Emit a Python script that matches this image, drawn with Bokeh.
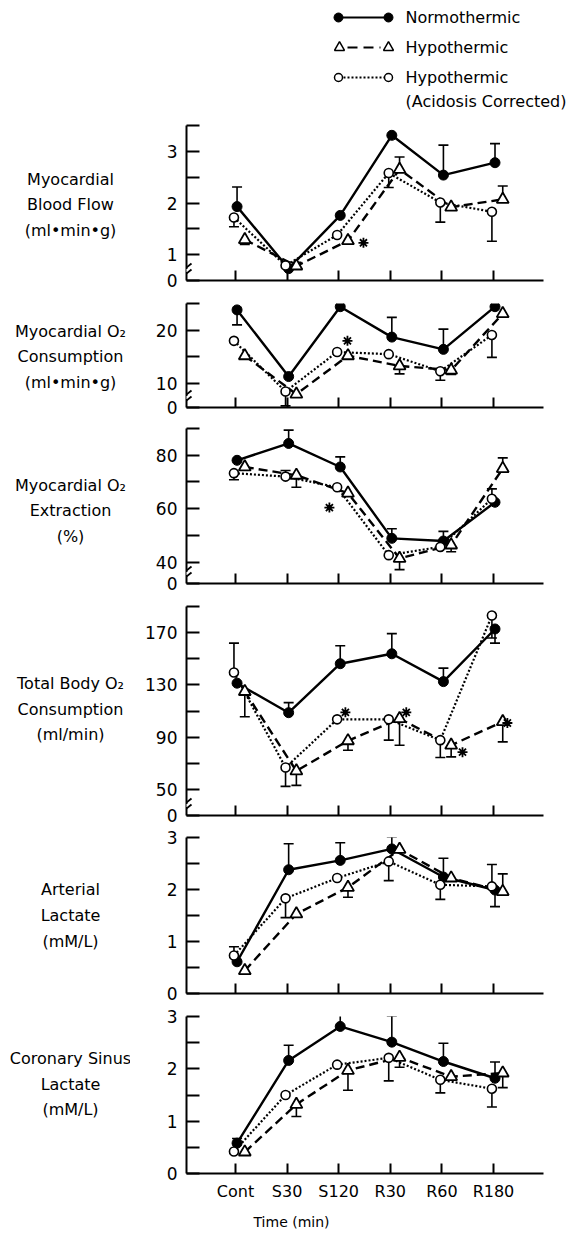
import math
from bokeh.plotting import figure
from bokeh.layouts import column, row
from bokeh.models import Range1d, FixedTicker, Arrow, CustomLabelingPolicy
from bokeh.core.properties import value
from bokeh.embed import file_html
from bokeh.resources import INLINE

NaN = float("nan")

categories = ["Cont", "S30", "S120", "R30", "R60", "R180"]

# Myocardial blood flow (ml.min.g)
mbf_normo = [1.93, 0.73, 1.76, 3.31, 2.54, 2.78]
mbf_normo_bar = [2.31, NaN, NaN, NaN, 3.12, 3.15]
mbf_hypo = [1.29, 0.78, 1.27, 2.65, 1.92, 2.07]
mbf_hypo_bar = [1.20, 0.85, NaN, 2.89, NaN, 2.33]
mbf_acid = [1.72, 0.79, 1.38, 2.58, 2.01, 1.83]
mbf_acid_bar = [1.54, NaN, NaN, 2.30, 1.63, 1.26]
mbf_star_x = [3.48]
mbf_star_y = [1.23]

# Myocardial O2 consumption
mvo2_normo = [23.8, 11.3, 24.4, 18.7, 16.4, 24.4]
mvo2_normo_bar = [21.0, NaN, NaN, 22.4, 20.2, NaN]
mvo2_hypo = [15.2, 8.0, 15.2, 13.3, 12.5, 23.1]
mvo2_hypo_bar = [NaN, NaN, NaN, 11.8, 11.7, NaN]
mvo2_acid = [18.0, 8.5, 15.9, 15.5, 12.3, 19.1]
mvo2_acid_bar = [NaN, 5.8, NaN, NaN, 10.6, 14.9]
mvo2_star_x = [3.17]
mvo2_star_y = [18.0]

# Myocardial O2 extraction (%)
ext_normo = [78.1, 84.4, 75.6, 48.9, 47.9, 62.4]
ext_normo_bar = [NaN, 89.4, 79.4, 52.5, 51.5, NaN]
ext_hypo = [75.6, 72.5, 65.8, 41.4, 46.4, 75.0]
ext_hypo_bar = [NaN, 68.0, NaN, 37.2, 43.9, 79.0]
ext_acid = [73.3, 72.0, 68.0, 42.6, 45.7, 63.7]
ext_acid_bar = [70.8, 74.3, NaN, NaN, NaN, 67.4]
ext_star_x = [2.82]
ext_star_y = [60.4]

# Total body O2 consumption (ml/min)
tb_normo = [131.3, 108.7, 146.2, 153.8, 132.5, 172.8]
tb_normo_bar = [NaN, 116.4, 160.0, 169.2, 142.8, 162.0]
tb_hypo = [124.9, 64.1, 87.2, 104.1, 83.8, 101.8]
tb_hypo_bar = [105.6, 53.1, 80.0, 83.8, 74.9, 86.4]
tb_acid = [139.5, 66.7, 103.6, 103.6, 87.7, 183.1]
tb_acid_bar = [162.0, 52.3, NaN, 87.7, 74.4, 165.9]
tb_star_x = [3.13, 4.31, 5.40, 6.27]
tb_star_y = [109.0, 109.0, 78.5, 100.8]

# Arterial lactate (mM/L)
al_normo = [0.61, 2.38, 2.56, 2.78, 2.24, 1.99]
al_normo_bar = [NaN, 2.88, 2.90, 3.01, 2.60, 1.67]
al_hypo = [0.44, 1.53, 2.04, 2.77, 2.22, 1.96]
al_hypo_bar = [NaN, NaN, 1.85, NaN, NaN, 2.30]
al_acid = [0.73, 1.83, 2.22, 2.54, 2.09, 2.06]
al_acid_bar = [0.90, 1.46, NaN, 2.17, 1.81, 2.48]

# Coronary sinus lactate (mM/L)
cs_normo = [0.58, 2.16, 2.81, 2.51, 2.14, 1.82]
cs_normo_bar = [0.67, 2.45, 3.13, 3.01, 2.49, 2.13]
cs_hypo = [0.41, 1.32, 1.97, 2.22, 1.85, 1.92]
cs_hypo_bar = [NaN, 1.09, 1.59, 2.03, NaN, 1.64]
cs_acid = [0.42, 1.50, 2.08, 2.21, 1.79, 1.62]
cs_acid_bar = [NaN, NaN, NaN, 1.77, 1.54, 1.27]

series_names = ["Normothermic", "Hypothermic", "Hypothermic\n(Acidosis Corrected)"]

FONT = "DejaVu Sans"
X_START, X_END = 0.05, 6.97
LABEL_W = 130
PLOT_W = 571 - LABEL_W
BL, BR = 56, 28
FRAME_W = PLOT_W - BL - BR

panels = [
    dict(title="Myocardial\nBlood Flow\n(ml\u2022min\u2022g)",
         normo=mbf_normo, normo_bar=mbf_normo_bar, hypo=mbf_hypo, hypo_bar=mbf_hypo_bar,
         acid=mbf_acid, acid_bar=mbf_acid_bar, sx=mbf_star_x, sy=mbf_star_y,
         yr=(0.5, 3.5), major=[0.5, 1, 2, 3], minor=[1.5, 2.5, 3.5], over={0.5: "0"},
         brk=True, rows=(112, 292), bt=13, bb=12, ty=204),
    dict(title="Myocardial O\u2082\nConsumption\n(ml\u2022min\u2022g)",
         normo=mvo2_normo, normo_bar=mvo2_normo_bar, hypo=mvo2_hypo, hypo_bar=mvo2_hypo_bar,
         acid=mvo2_acid, acid_bar=mvo2_acid_bar, sx=mvo2_star_x, sy=mvo2_star_y,
         yr=(5.5, 25), major=[5.5, 10, 20], minor=[15, 25], over={5.5: "0"},
         brk=True, rows=(292, 417), bt=11, bb=10, ty=356),
    dict(title="Myocardial O\u2082\nExtraction\n(%)",
         normo=ext_normo, normo_bar=ext_normo_bar, hypo=ext_hypo, hypo_bar=ext_hypo_bar,
         acid=ext_acid, acid_bar=ext_acid_bar, sx=ext_star_x, sy=ext_star_y,
         yr=(32, 90), major=[32, 40, 60, 80], minor=[50, 70, 90], over={32: "0"},
         brk=True, rows=(417, 594), bt=11, bb=11, ty=511),
    dict(title="Total Body O\u2082\nConsumption\n(ml/min)",
         normo=tb_normo, normo_bar=tb_normo_bar, hypo=tb_hypo, hypo_bar=tb_hypo_bar,
         acid=tb_acid, acid_bar=tb_acid_bar, sx=tb_star_x, sy=tb_star_y,
         yr=(30, 190), major=[30, 50, 90, 130, 170], minor=[70, 110, 150, 190], over={30: "0"},
         brk=True, rows=(594, 826), bt=12, bb=11, ty=708),
    dict(title="Arterial\nLactate\n(mM/L)",
         normo=al_normo, normo_bar=al_normo_bar, hypo=al_hypo, hypo_bar=al_hypo_bar,
         acid=al_acid, acid_bar=al_acid_bar, sx=[], sy=[],
         yr=(0, 3), major=[0, 1, 2, 3], minor=[0.5, 1.5, 2.5], over={},
         brk=False, rows=(826, 1004), bt=11, bb=11, ty=915),
    dict(title="Coronary Sinus\nLactate\n(mM/L)",
         normo=cs_normo, normo_bar=cs_normo_bar, hypo=cs_hypo, hypo_bar=cs_hypo_bar,
         acid=cs_acid, acid_bar=cs_acid_bar, sx=[], sy=[],
         yr=(0, 3), major=[0, 1, 2, 3], minor=[0.5, 1.5, 2.5], over={},
         brk=False, rows=(1004, 1206), bt=12, bb=33, ty=1091),
]

styles = {
    "normo": dict(dx=0.03, dash="solid", lw=2.4, marker="circle", size=10, fill="black", mlw=1),
    "hypo": dict(dx=0.18, dash="9 5", lw=2.4, marker="triangle", size=12, fill="white", mlw=1.8),
    "acid": dict(dx=-0.03, dash="2 2", lw=2.2, marker="circle", size=9, fill="white", mlw=1.6),
}


def blank_fig(w, h, xr, yr):
    f = figure(width=w, height=h, x_range=Range1d(*xr), y_range=Range1d(*yr),
               output_backend="svg", toolbar_location=None, x_axis_type=None,
               y_axis_type=None, min_border=0)
    f.outline_line_color = None
    f.grid.visible = False
    return f


def make_plot(pn, last):
    top, bottom = pn["rows"]
    p = figure(width=PLOT_W, height=bottom - top,
               x_range=Range1d(X_START, X_END), y_range=Range1d(*pn["yr"]),
               output_backend="svg", toolbar_location=None,
               min_border_left=BL, min_border_right=BR,
               min_border_top=pn["bt"], min_border_bottom=pn["bb"])
    p.outline_line_color = None
    p.grid.visible = False

    xa = p.xaxis[0]
    xa.ticker = FixedTicker(ticks=[i + 1 for i in range(len(categories))])
    xa.major_label_overrides = {i + 1: c for i, c in enumerate(categories)}
    xa.axis_line_width = 2
    xa.major_tick_line_width = 2
    xa.major_tick_in = 10
    xa.major_tick_out = 0
    xa.minor_tick_in = 0
    xa.minor_tick_out = 0
    if last:
        xa.major_label_text_font = FONT
        xa.major_label_text_font_size = "16px"
        xa.major_label_text_color = "black"
        xa.major_label_standoff = 8
    else:
        # tick labels shown only on the bottom panel
        xa.major_label_policy = CustomLabelingPolicy(
            code="for (const i of indices) indices.unset(i)")
        xa.major_label_text_font_size = "2px"
        xa.major_label_standoff = 0

    ya = p.yaxis[0]
    ya.ticker = FixedTicker(ticks=pn["major"], minor_ticks=pn["minor"])
    if pn["over"]:
        ya.major_label_overrides = pn["over"]
    ya.axis_line_width = 2
    ya.major_tick_line_width = 2
    ya.minor_tick_line_width = 2
    ya.major_tick_in = 13
    ya.major_tick_out = 0
    ya.minor_tick_in = 13
    ya.minor_tick_out = 0
    ya.minor_tick_line_color = "black"
    ya.major_label_text_font = FONT
    ya.major_label_text_font_size = "17px"
    ya.major_label_text_color = "black"
    ya.major_label_standoff = 9

    # lines
    for key in ["hypo", "acid", "normo"]:
        st = styles[key]
        xs = [i + 1 + st["dx"] for i in range(len(categories))]
        p.line(xs, pn[key], line_width=st["lw"], line_dash=st["dash"], line_color="black")
    # error bars
    for key in ["hypo", "acid", "normo"]:
        st = styles[key]
        xs = [i + 1 + st["dx"] for i in range(len(categories))]
        pts = [(x, y, b) for x, y, b in zip(xs, pn[key], pn[key + "_bar"]) if not math.isnan(b)]
        if pts:
            bx = [t[0] for t in pts]
            by = [t[1] for t in pts]
            bb = [t[2] for t in pts]
            p.segment(bx, by, bx, bb, line_width=1.6, line_color="black")
            p.scatter(bx, bb, marker="dash", size=10, line_width=1.6, line_color="black")
    # markers
    for key in ["normo", "acid", "hypo"]:
        st = styles[key]
        xs = [i + 1 + st["dx"] for i in range(len(categories))]
        p.scatter(xs, pn[key], marker=st["marker"], size=st["size"], fill_color=st["fill"],
                  line_color="black", line_width=st["mlw"])
    # significance asterisks
    if pn["sx"]:
        p.scatter(pn["sx"], pn["sy"], marker="asterisk", size=10, line_width=1.8, line_color="black")

    # axis break marks
    if pn["brk"]:
        frame_h = (bottom - top) - pn["bt"] - pn["bb"]
        y0, y1 = pn["yr"]
        sx = (X_END - X_START) / FRAME_W
        sy = (y1 - y0) / frame_h
        p.add_layout(Arrow(end=None, x_start=X_START, y_start=y0 + 8.5 * sy,
                           x_end=X_START, y_end=y0 + 11.5 * sy,
                           line_width=4, line_color="white"))
        for off in (7, 13):
            p.add_layout(Arrow(end=None, x_start=X_START - 5 * sx, y_start=y0 + (off - 4) * sy,
                               x_end=X_START + 5 * sx, y_end=y0 + (off + 4) * sy,
                               line_width=1.8, line_color="black"))
    return p


def make_label(pn):
    top, bottom = pn["rows"]
    f = blank_fig(LABEL_W, bottom - top, (0, LABEL_W), (bottom, top))
    f.text(x=[70], y=[pn["ty"]], text=[pn["title"]], text_font=value(FONT),
           text_font_size="16px", text_align="center", text_baseline="middle",
           text_line_height=1.35, text_color="black")
    return f


# header with the legend
header = blank_fig(571, 112, (0, 571), (112, 0))
header.line([338, 388], [17, 17], line_width=2.2, line_color="black")
header.scatter([338, 388], [17, 17], marker="circle", size=9, fill_color="black", line_color="black")
header.line([347, 380], [47, 47], line_width=2.2, line_dash="10 6", line_color="black")
header.scatter([339, 388], [47, 47], marker="triangle", size=10, fill_color="white",
               line_color="black", line_width=1.5)
header.line([343, 384], [77, 77], line_width=2, line_dash="2 2", line_color="black")
header.scatter([338, 388], [77, 77], marker="circle", size=8, fill_color="white",
               line_color="black", line_width=1.5)
header.text(x=[405, 405, 405, 405], y=[17, 47, 77, 101],
            text=[series_names[0], series_names[1]] + series_names[2].split("\n"),
            text_font=value(FONT), text_font_size="16px", text_align="left",
            text_baseline="middle", text_color="black")

footer = blank_fig(571, 27, (0, 571), (27, 0))
footer.text(x=[291], y=[15], text=["Time (min)"], text_font=value(FONT),
            text_font_size="14px", text_align="center", text_baseline="middle",
            text_color="black")

rows = [header]
for i, pn in enumerate(panels):
    rows.append(row(make_label(pn), make_plot(pn, i == len(panels) - 1), spacing=0))
rows.append(footer)

layout = column(*rows, spacing=0)

open("out.html", "w").write(file_html(layout, INLINE))
